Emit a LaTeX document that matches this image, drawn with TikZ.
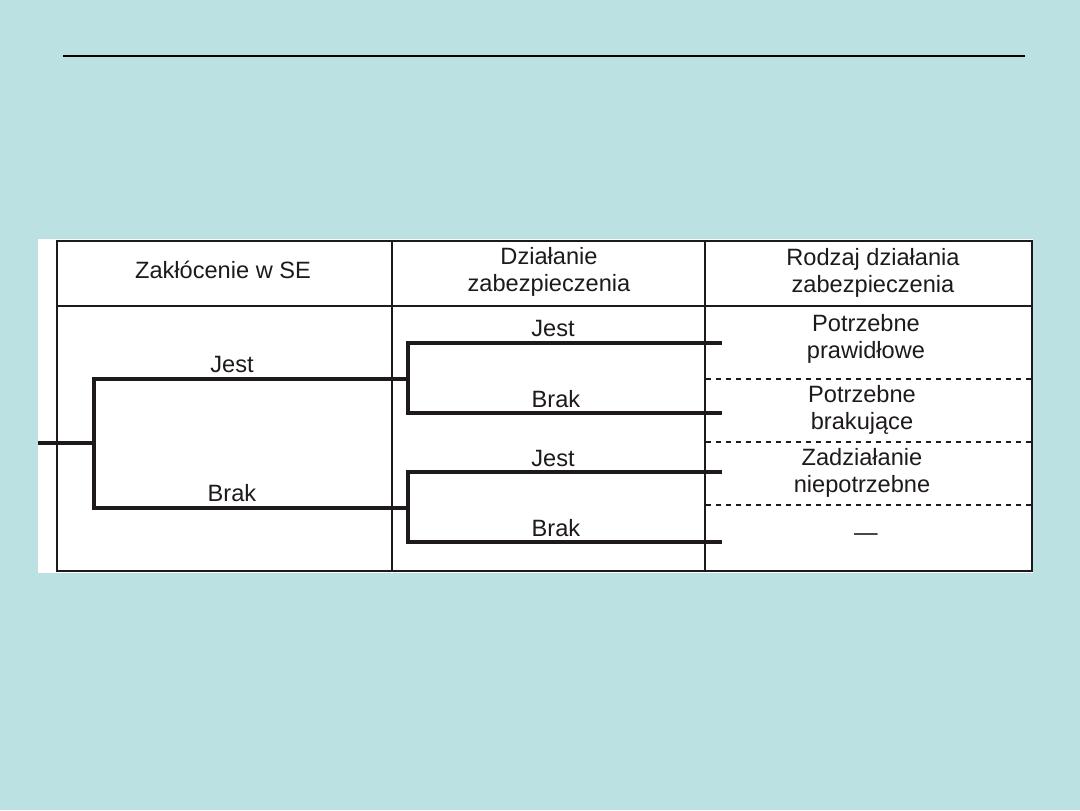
\documentclass[tikz,border=0pt]{standalone}
\usepackage{fontspec}
\setmainfont{Liberation Sans}
\usetikzlibrary{positioning}
\definecolor{slBg}{HTML}{BCE1E3}
\definecolor{slInk}{HTML}{1E1A1A}

\begin{document}
\begin{tikzpicture}[
    x=0.5pt, y=-0.5pt,
    cell/.style={align=center, font=\fontsize{11.8}{13.2}\selectfont, text=slInk, inner sep=0pt},
    grid/.style={draw=slInk, line width=1pt},
    branch/.style={draw=slInk, line width=2pt, line join=miter},
    sep/.style={draw=slInk, line width=0.75pt, dash pattern=on 2.5pt off 2.5pt},
  ]
  % slide background and title rule
  \fill[slBg] (0,0) rectangle (1080,810);
  \coordinate (ruleL) at (63,56);
  \coordinate (ruleR) at (1025,56);
  \draw[black, line width=1pt] (ruleL) -- (ruleR);

  % table frame; columns at x = 392 and 705
  \fill[white] (38,239) rectangle (1033,573);
  \draw[grid] (57,241) rectangle (1032,571);
  \draw[grid] (57,306) -- (1032,306);
  \draw[grid] (392,241) -- (392,571);
  \draw[grid] (705,241) -- (705,571);

  % header
  \node[cell] (h1) at (223,270) {Zakłócenie w SE};
  \node[cell] (h2) at (549,272) {Działanie\\zabezpieczenia};
  \node[cell] (h3) at (873,273) {Rodzaj działania\\zabezpieczenia};

  % first level
  \coordinate (root) at (38,443);
  \coordinate (fork) at (94,443);
  \coordinate (fJ) at (94,379);
  \coordinate (fB) at (94,508);
  \coordinate (pJ) at (408,379);
  \coordinate (pB) at (408,508);
  \draw[branch] (root) -- (fork);
  \draw[branch] (pJ) -- (fJ) -- (fB) -- (pB);
  \node[cell] (lJ) at (232,364) {Jest};
  \node[cell] (lB) at (232,493) {Brak};

  % second level
  \coordinate (aJ) at (408,343);  \coordinate (aJe) at (722,343);
  \coordinate (aB) at (408,413);  \coordinate (aBe) at (722,413);
  \coordinate (bJ) at (408,472);  \coordinate (bJe) at (722,472);
  \coordinate (bB) at (408,542);  \coordinate (bBe) at (722,542);
  \draw[branch] (aJe) -- (aJ) -- (aB) -- (aBe);
  \draw[branch] (bJe) -- (bJ) -- (bB) -- (bBe);
  \node[cell] (mJa) at (553,328) {Jest};
  \node[cell] (mBa) at (556,399) {Brak};
  \node[cell] (mJb) at (553,458) {Jest};
  \node[cell] (mBb) at (556,528) {Brak};

  % outcome column
  \draw[sep] (706,379) -- (1031,379);
  \draw[sep] (706,442) -- (1031,442);
  \draw[sep] (706,505) -- (1031,505);
  \node[cell] (r1) at (866,339) {Potrzebne\\prawidłowe};
  \node[cell] (r2) at (862,410) {Potrzebne\\brakujące};
  \node[cell] (r3) at (862,473) {Zadziałanie\\niepotrzebne};
  \node[cell] (r4) at (866,537) {—};
\end{tikzpicture}
\end{document}
